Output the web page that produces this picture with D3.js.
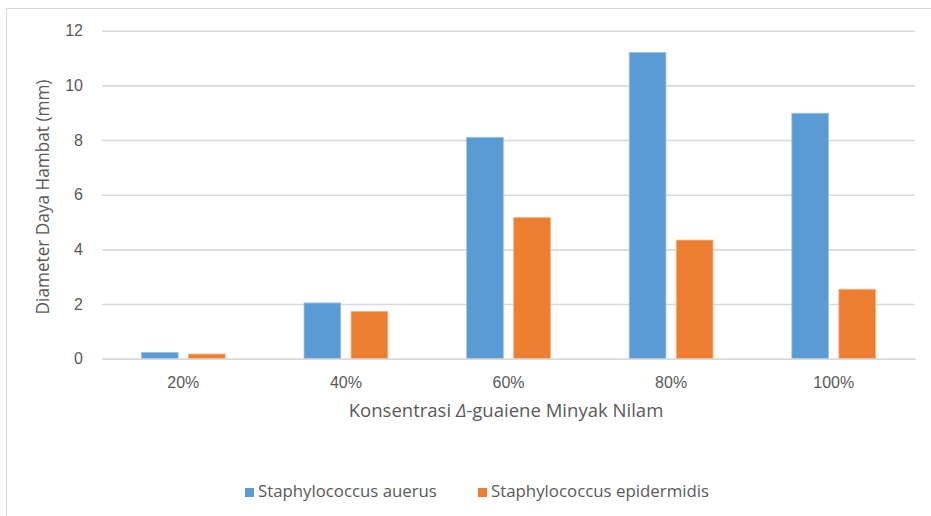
<!DOCTYPE html>
<html>
<head>
<meta charset="utf-8">
<script src="https://cdn.jsdelivr.net/npm/d3@7"></script>
<style>
  html, body { margin: 0; padding: 0; background: #fff; }
  svg { display: block; font-family: "Open Sans", "Noto Sans", sans-serif; }
  text { fill: #595959; }
</style>
</head>
<body>
<svg id="chart" width="931" height="516"></svg>
<script>
// Inhibition zone diameters (mm) per Δ-guaiene concentration
const categories = ["20%", "40%", "60%", "80%", "100%"];
const seriesNames = ["Staphylococcus auerus", "Staphylococcus epidermidis"];
const aureusValues = [0.23, 2.04, 8.10, 11.20, 8.98];
const epidermidisValues = [0.17, 1.73, 5.16, 4.34, 2.54];
const yTicks = [0, 2, 4, 6, 8, 10, 12];
const colors = ["#5B9BD5", "#ED7D31"];
const strokeColors = ["#9DC3E6", "#F4B183"];

const svg = d3.select("#chart");
const W = 931, H = 516;
const plot = { left: 102, right: 915, top: 30.7, bottom: 358.7 };

// Outer chart frame (extends past the right/bottom edges)
svg.append("rect")
  .attr("x", 6.5).attr("y", 8.5)
  .attr("width", W + 20).attr("height", H + 20)
  .attr("fill", "none").attr("stroke", "#D9D9D9").attr("stroke-width", 1);

const x0 = d3.scaleBand().domain(categories)
  .range([plot.left, plot.right]).paddingInner(0.485).paddingOuter(0.2425);
const x1 = d3.scaleBand().domain(seriesNames)
  .range([0, x0.bandwidth()]).paddingInner(0.22).paddingOuter(0);
const y = d3.scaleLinear().domain([0, 12]).range([plot.bottom, plot.top]);

// Fit a text element's font size so it spans a given width
function fitWidth(sel, target) {
  sel.each(function () {
    const base = 100;
    this.setAttribute("font-size", base);
    const w = this.getComputedTextLength();
    this.setAttribute("font-size", (base * target / w).toFixed(2));
  });
}

// Y axis with gridlines
const yAxis = svg.append("g")
  .attr("transform", `translate(${plot.left},0)`)
  .call(d3.axisLeft(y).tickValues(yTicks)
    .tickSize(-(plot.right - plot.left)).tickPadding(19)
    .tickFormat(d3.format("d")));
yAxis.select(".domain").remove();
yAxis.selectAll(".tick line").attr("stroke", "#D9D9D9").attr("stroke-width", 1.6);
yAxis.selectAll(".tick text").attr("font-size", 16).attr("fill", "#595959");

// Bars
const rows = categories.map((c, i) => ({
  cat: c,
  vals: [aureusValues[i], epidermidisValues[i]]
}));
const groups = svg.append("g").selectAll("g").data(rows).join("g")
  .attr("transform", d => `translate(${x0(d.cat)},0)`);
groups.selectAll("rect")
  .data(d => d.vals.map((v, k) => ({ name: seriesNames[k], v, k })))
  .join("rect")
  .attr("x", d => x1(d.name))
  .attr("width", x1.bandwidth())
  .attr("y", d => y(d.v))
  .attr("height", d => y(0) - y(d.v))
  .attr("fill", d => colors[d.k])
  .attr("stroke", d => strokeColors[d.k])
  .attr("stroke-width", 0.8);

// X axis
const xAxis = svg.append("g")
  .attr("transform", `translate(0,${plot.bottom})`)
  .call(d3.axisBottom(x0).tickSize(0).tickPadding(18));
xAxis.select(".domain").attr("stroke", "#D9D9D9").attr("stroke-width", 1.6);
xAxis.selectAll(".tick text").attr("font-size", 16).attr("fill", "#595959");

// Axis titles
const xTitle = svg.append("text")
  .attr("x", 506).attr("y", 417)
  .attr("text-anchor", "middle")
  .text("Konsentrasi ");
xTitle.append("tspan").attr("font-style", "italic").text("Δ");
xTitle.append("tspan").text("-guaiene Minyak Nilam");
fitWidth(xTitle, 315);

const yTitle = svg.append("text")
  .attr("transform", "translate(49,197) rotate(-90)")
  .attr("text-anchor", "middle")
  .text("Diameter Daya Hambat (mm)");
fitWidth(yTitle, 235);

// Legend
const legendX = [245, 478];
const legendW = [179, 218];
const legend = svg.append("g").selectAll("g").data(seriesNames).join("g")
  .attr("transform", (d, i) => `translate(${legendX[i]},488)`);
legend.append("rect")
  .attr("width", 9).attr("height", 9)
  .attr("fill", (d, i) => colors[i]);
legend.append("text")
  .attr("x", 13).attr("y", 9)
  .text(d => d)
  .each(function (d, i) { fitWidth(d3.select(this), legendW[i]); });
</script>
</body>
</html>
